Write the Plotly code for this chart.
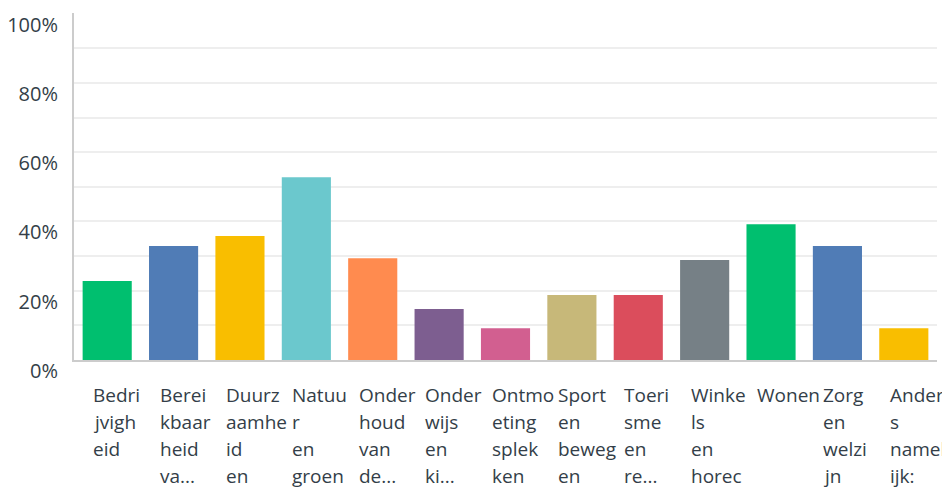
"""
Bar chart of survey answers per theme (percent of respondents).
"""

import plotly.graph_objects as go

# categories as wrapped/truncated in the original chart
categories = [
    "Bedrijvigheid", "Bereikbaarheid van", "Duurzaamheid en",
    "Natuur en groen", "Onderhoud van de", "Onderwijs en kinderopvang",
    "Ontmoetingsplekken", "Sport en bewegen", "Toerisme en recreatie",
    "Winkels en horeca", "Wonen", "Zorg en welzijn", "Anders namelijk:",
]
label_lines = [
    ["Bedri", "jvigh", "eid"],
    ["Berei", "kbaar", "heid", "va..."],
    ["Duurz", "aamhe", "id", "en"],
    ["Natuu", "r", "en", "groen"],
    ["Onder", "houd", "van", "de..."],
    ["Onder", "wijs", "en", "ki..."],
    ["Ontmo", "eting", "splek", "ken"],
    ["Sport", "en", "beweg", "en"],
    ["Toeri", "sme", "en", "re..."],
    ["Winke", "ls", "en", "horec"],
    ["Wonen"],
    ["Zorg", "en", "welzi", "jn"],
    ["Ander", "s", "namel", "ijk:"],
]
percentages = [22.8, 32.9, 35.8, 52.8, 29.4, 14.7, 9.2, 18.8, 18.8, 28.9, 39.2, 32.9, 9.2]
bar_colors = [
    "#00BF6F", "#507CB6", "#F9BE00", "#6BC8CD", "#FF8B4F", "#7D5E90", "#D25F90",
    "#C7B879", "#DB4D5C", "#768086", "#00BF6F", "#507CB6", "#F9BE00",
]
y_ticks = [0, 20, 40, 60, 80, 100]

TEXT_COLOR = "#333E48"

fig = go.Figure(go.Bar(
    x=categories,
    y=percentages,
    marker_color=bar_colors,
    marker_line_width=0,
    hovertemplate="%{x}: %{y:.1f}%<extra></extra>",
))

# left-aligned, hand-wrapped category labels under each bar
for cat, lines in zip(categories, label_lines):
    for i, line in enumerate(lines):
        fig.add_annotation(
            x=cat, xref="x", y=0, yref="paper",
            text=line, showarrow=False,
            xanchor="left", yanchor="middle",
            xshift=-16, yshift=-35 - 27 * i,
            font=dict(family="Open Sans", size=19, color=TEXT_COLOR),
        )

fig.update_layout(
    width=942,
    height=489,
    margin=dict(l=74, r=5, t=13, b=129),
    plot_bgcolor="white",
    paper_bgcolor="white",
    bargap=0.26,
    showlegend=False,
    xaxis=dict(
        range=[-0.5, 12.5],
        showticklabels=False,
        showline=True,
        linecolor="#CCCCCC",
        linewidth=2,
        ticks="",
        automargin=False,
    ),
    yaxis=dict(
        range=[0, 100.2],
        tickvals=y_ticks,
        ticktext=[f"{v}%" for v in y_ticks],
        showgrid=True,
        gridcolor="#EEEEEE",
        gridwidth=1.5,
        minor=dict(dtick=10, showgrid=True, gridcolor="#EEEEEE", gridwidth=1.5),
        showline=True,
        linecolor="#CCCCCC",
        linewidth=2,
        zeroline=False,
        ticks="",
        ticklabelstandoff=10,
        ticklabelshift=11,
        automargin=False,
        tickfont=dict(family="Open Sans", size=20, color=TEXT_COLOR),
    ),
)

# drop the default page margin so the figure fills the window exactly
fig.write_html(
    "out.html",
    config={"displayModeBar": False},
    post_script="document.body.style.margin='0';document.body.style.overflow='hidden';",
)
